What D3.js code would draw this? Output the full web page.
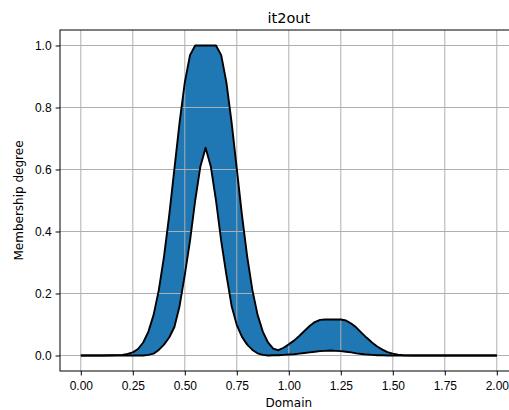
<!DOCTYPE html>
<html>
<head>
<meta charset="utf-8">
<script src="https://cdn.jsdelivr.net/npm/d3@7"></script>
<style>
  body { margin: 0; background: #fff; }
  svg { display: block; font-family: "DejaVu Sans", sans-serif; }
  .tick text { font-size: 12px; fill: #000; }
</style>
</head>
<body>
<svg width="509" height="410"></svg>
<script>
// domain samples
var domainX = [0, 0.05, 0.1, 0.15, 0.2, 0.225, 0.25, 0.275, 0.3, 0.325, 0.35, 0.375, 0.4, 0.425, 0.45, 0.475,
  0.5, 0.525, 0.55, 0.575, 0.6, 0.625, 0.65, 0.675, 0.7, 0.725, 0.75, 0.775, 0.8, 0.825, 0.85, 0.875,
  0.9, 0.925, 0.95, 0.975, 1.0, 1.025, 1.05, 1.075, 1.1, 1.125, 1.15, 1.175, 1.2, 1.225, 1.25, 1.275,
  1.3, 1.325, 1.35, 1.375, 1.4, 1.425, 1.45, 1.475, 1.5, 1.525, 1.55, 1.6, 1.7, 1.8, 1.9, 2.0];

// upper membership function
var upperMF = [0, 0, 0, 0.001, 0.002, 0.005, 0.01, 0.021, 0.042, 0.077, 0.131, 0.211, 0.319, 0.452, 0.602, 0.752,
  0.881, 0.969, 1, 1, 1, 1, 1, 0.969, 0.881, 0.752, 0.602, 0.452, 0.319, 0.211, 0.131, 0.077,
  0.042, 0.022, 0.017, 0.025, 0.036, 0.048, 0.063, 0.079, 0.095, 0.108, 0.115, 0.116, 0.116, 0.116, 0.116, 0.113,
  0.103, 0.09, 0.073, 0.057, 0.042, 0.029, 0.019, 0.011, 0.006, 0.003, 0.001, 0, 0, 0, 0, 0];

// lower membership function
var lowerMF = [0, 0, 0, 0, 0, 0, 0, 0, 0, 0.002, 0.006, 0.018, 0.035, 0.058, 0.092, 0.16,
  0.26, 0.37, 0.5, 0.61, 0.67, 0.61, 0.5, 0.37, 0.26, 0.16, 0.098, 0.06, 0.035, 0.018, 0.007, 0.002,
  0, 0.001, 0.001, 0.002, 0.003, 0.004, 0.006, 0.008, 0.01, 0.012, 0.014, 0.015, 0.016, 0.015, 0.014, 0.012,
  0.01, 0.007, 0.005, 0.003, 0.002, 0.001, 0.001, 0, 0, 0, 0, 0, 0, 0, 0, 0];

var xTicks = [0, 0.25, 0.5, 0.75, 1.0, 1.25, 1.5, 1.75, 2.0];
var yTicks = [0, 0.2, 0.4, 0.6, 0.8, 1.0];

var svg = d3.select("svg"),
    margin = {top: 30, left: 60},
    width = 457.6,
    height = 341,
    g = svg.append("g").attr("transform", "translate(" + margin.left + "," + margin.top + ")");

var x = d3.scaleLinear().domain([-0.1, 2.1]).range([0, width]),
    y = d3.scaleLinear().domain([-0.05, 1.05]).range([height, 0]);

var data = domainX.map(function(d, i) { return {x: d, up: upperMF[i], lo: lowerMF[i]}; });

var area = d3.area()
    .x(function(d) { return x(d.x); })
    .y0(function(d) { return y(d.lo); })
    .y1(function(d) { return y(d.up); });

var lineUp = d3.line()
    .x(function(d) { return x(d.x); })
    .y(function(d) { return y(d.up); });

var lineLo = d3.line()
    .x(function(d) { return x(d.x); })
    .y(function(d) { return y(d.lo); });

// filled band between lower and upper
g.append("path")
    .datum(data)
    .attr("fill", "#1f77b4")
    .attr("d", area);

// grid
g.selectAll(".gx")
  .data(xTicks)
  .enter().append("line")
    .attr("class", "gx")
    .attr("x1", function(d) { return x(d); })
    .attr("x2", function(d) { return x(d); })
    .attr("y1", 0)
    .attr("y2", height)
    .attr("stroke", "#b0b0b0")
    .attr("stroke-width", 1);

g.selectAll(".gy")
  .data(yTicks)
  .enter().append("line")
    .attr("class", "gy")
    .attr("x1", 0)
    .attr("x2", width)
    .attr("y1", function(d) { return y(d); })
    .attr("y2", function(d) { return y(d); })
    .attr("stroke", "#b0b0b0")
    .attr("stroke-width", 1);

g.append("path")
    .datum(data)
    .attr("fill", "none")
    .attr("stroke", "#000")
    .attr("stroke-width", 1.9)
    .attr("stroke-linejoin", "round")
    .attr("d", lineUp);

g.append("path")
    .datum(data)
    .attr("fill", "none")
    .attr("stroke", "#000")
    .attr("stroke-width", 1.9)
    .attr("stroke-linejoin", "round")
    .attr("d", lineLo);

// axes
var xAxis = g.append("g")
    .attr("transform", "translate(0," + height + ")")
    .call(d3.axisBottom(x).tickValues(xTicks).tickFormat(d3.format(".2f")).tickSize(4.4).tickPadding(6));

var yAxis = g.append("g")
    .call(d3.axisLeft(y).tickValues(yTicks).tickFormat(d3.format(".1f")).tickSize(4.4).tickPadding(4));

xAxis.select(".domain").remove();
yAxis.select(".domain").remove();

// spines
g.append("rect")
    .attr("x", 0)
    .attr("y", 0)
    .attr("width", width)
    .attr("height", height)
    .attr("fill", "none")
    .attr("stroke", "#000")
    .attr("stroke-width", 1);

// labels
svg.append("text")
    .attr("x", margin.left + width / 2)
    .attr("y", 23)
    .attr("text-anchor", "middle")
    .style("font-size", "14.5px")
    .text("it2out");

svg.append("text")
    .attr("x", margin.left + width / 2)
    .attr("y", 407)
    .attr("text-anchor", "middle")
    .style("font-size", "12px")
    .text("Domain");

svg.append("text")
    .attr("transform", "translate(22.5," + (margin.top + height / 2) + ") rotate(-90)")
    .attr("text-anchor", "middle")
    .style("font-size", "12px")
    .text("Membership degree");
</script>
</body>
</html>
